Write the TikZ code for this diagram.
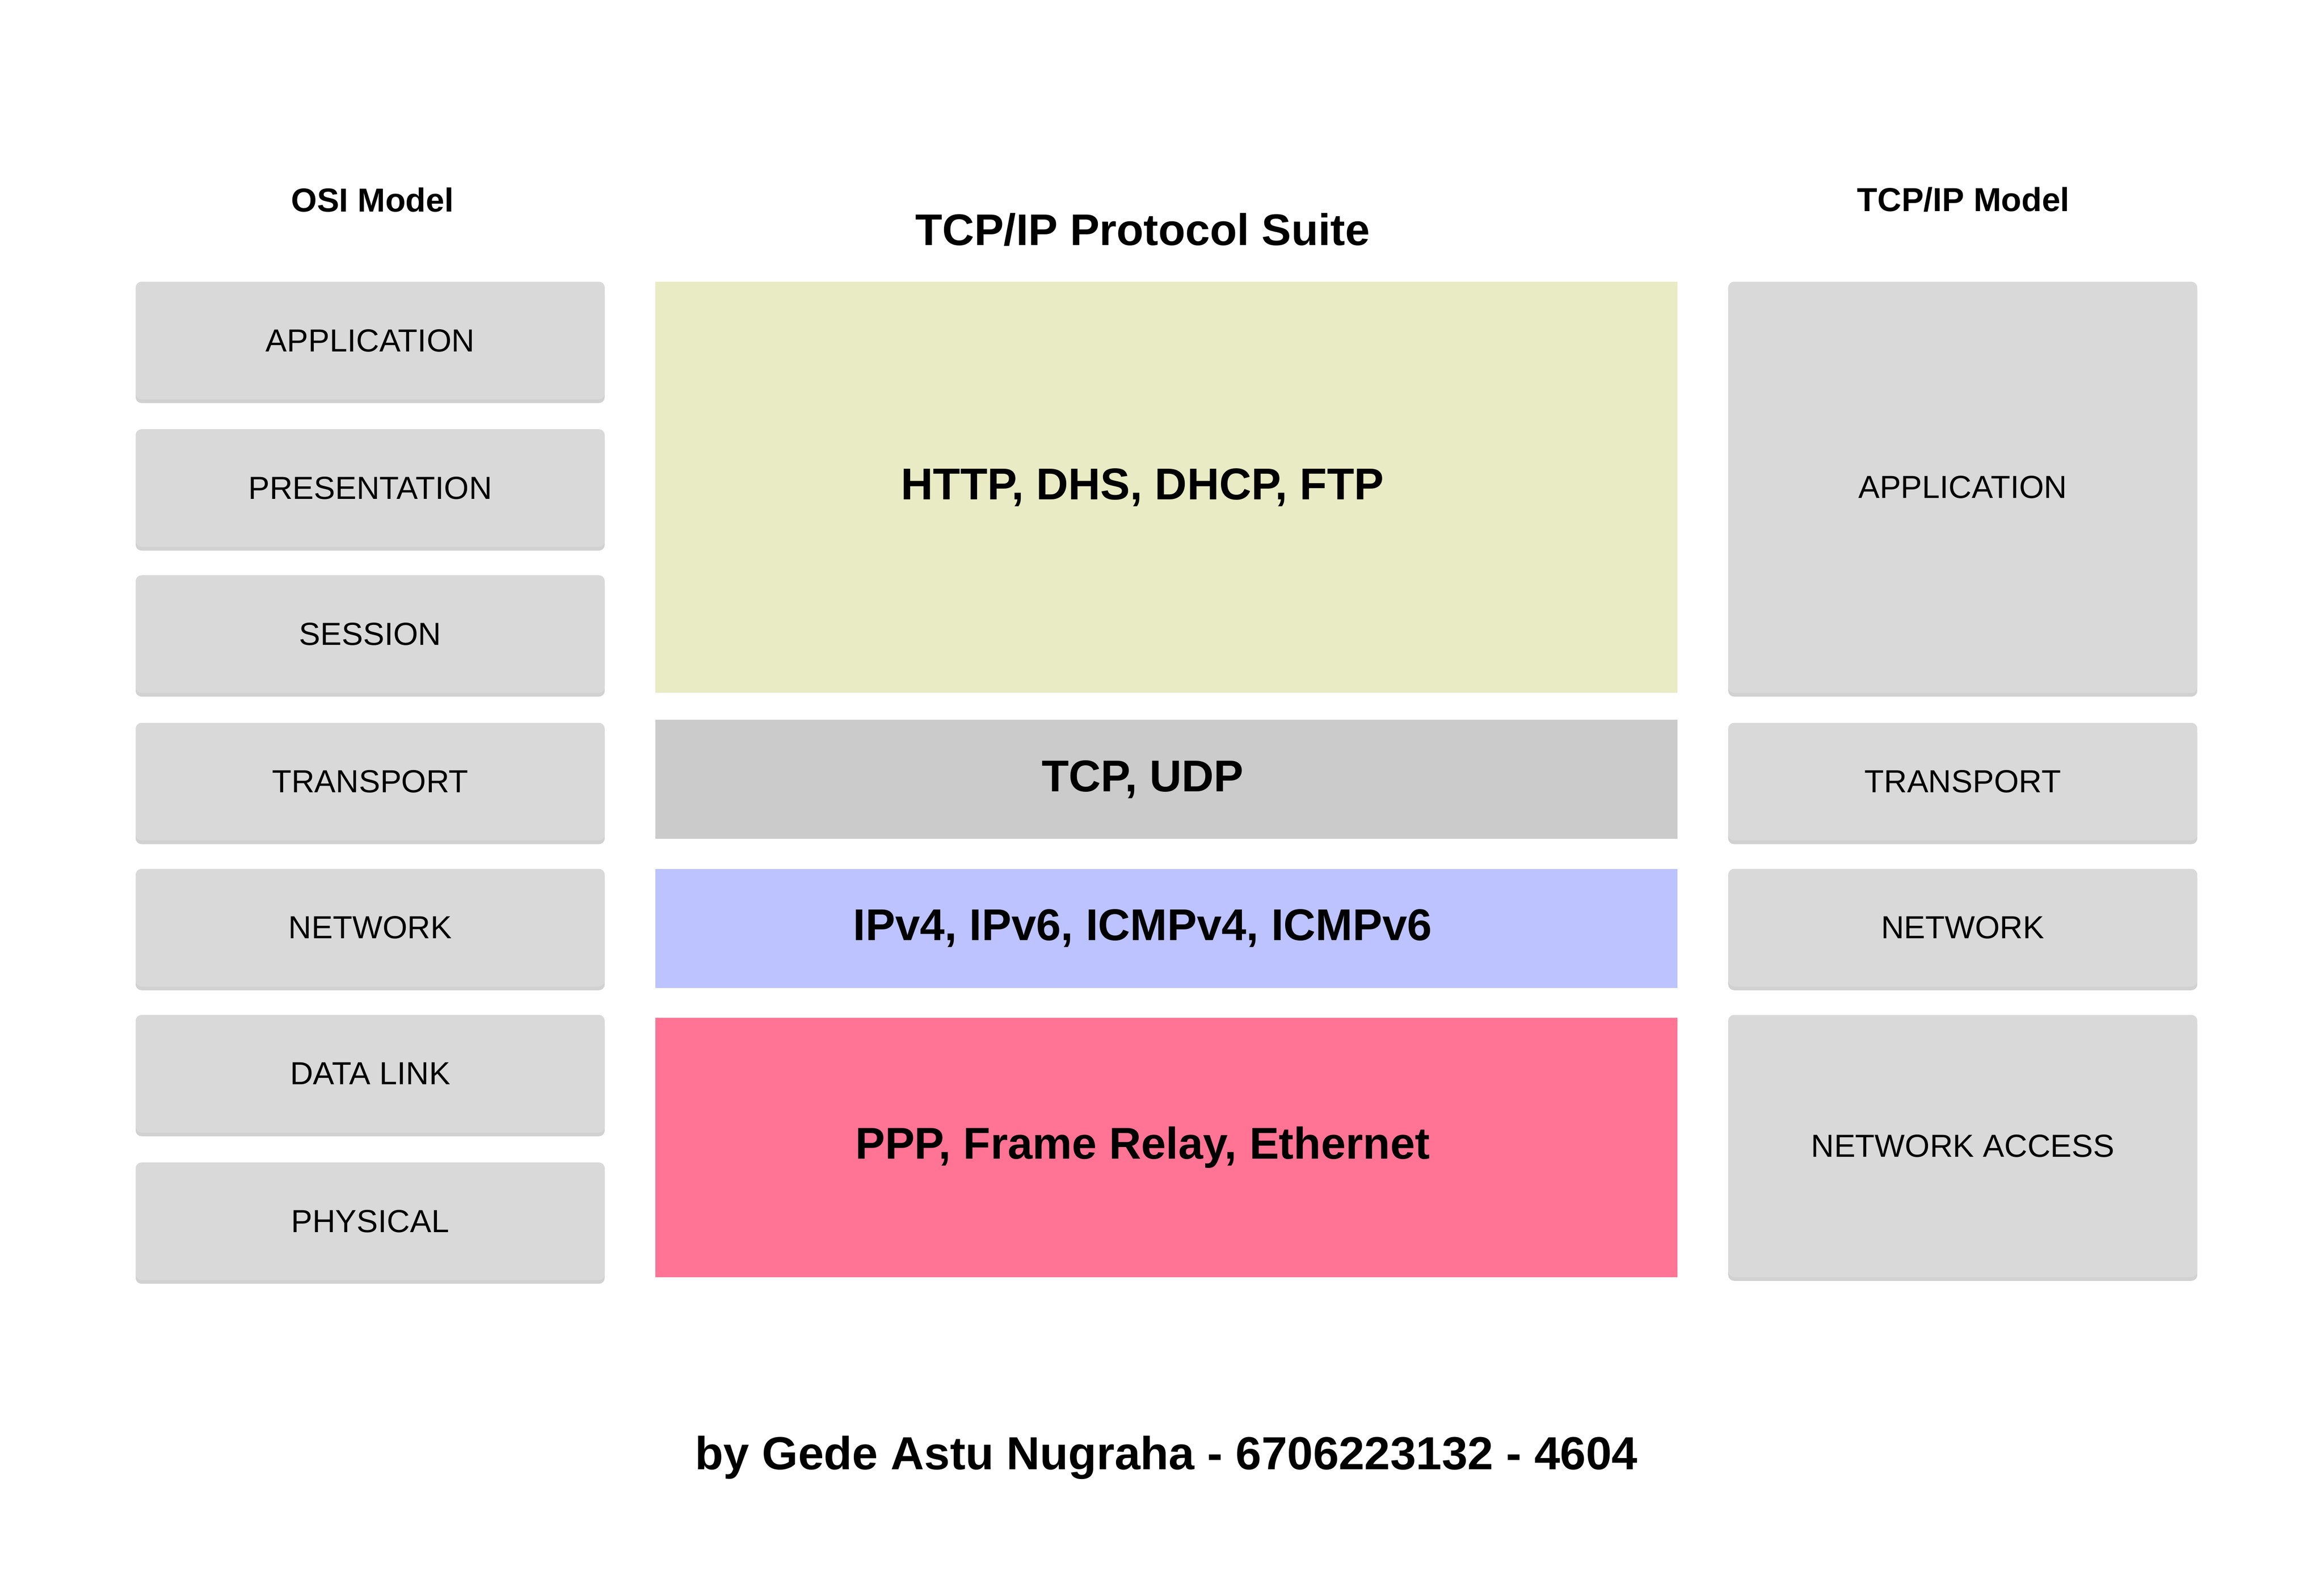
\documentclass[tikz,border=0pt]{standalone}
\usepackage{fontspec}
\setmainfont{Liberation Sans}
\usepackage{tikz}
\usetikzlibrary{shadows}
\definecolor{layergray}{HTML}{D9D9D9}
\definecolor{appyellow}{HTML}{E9EBC4}
\definecolor{tpgray}{HTML}{CBCBCB}
\definecolor{netblue}{HTML}{BCC3FE}
\definecolor{linkpink}{HTML}{FF7494}

\begin{document}
\begin{tikzpicture}
	[x=0.02cm, y=-0.02cm, inner sep=0pt,
	layer/.style	= {rectangle, fill=layergray, draw=none, rounded corners=2.3pt, minimum width=6.3cm, minimum height=1.58cm, font=\fontsize{12.2}{14}\selectfont,
		drop shadow={shadow xshift=0pt, shadow yshift=-0.05cm, fill=black!60, opacity=0.3}},
	proto/.style	= {rectangle, draw=none, minimum width=13.72cm, minimum height=1.6cm},
	protext/.style	= {font=\fontsize{17}{20}\bfseries\selectfont},
	heading/.style	= {font=\fontsize{12.7}{15}\bfseries\selectfont}]
	
	\useasboundingbox (0,0) rectangle (1560,1068);
	
	\node at (250, 134)		[heading]	(osi)		{OSI Model};
	\node at (767, 154)		[font=\fontsize{16.9}{20}\bfseries\selectfont]	(suite)	{TCP/IP Protocol Suite};
	\node at (1318, 134)	[heading]	(tcpip)		{TCP/IP Model};
	
	% OSI layers
	\node at (248.5, 228.5)	[layer]	(o7)	{APPLICATION};
	\node at (248.5, 327.5)	[layer]	(o6)	{PRESENTATION};
	\node at (248.5, 425.5)	[layer]	(o5)	{SESSION};
	\node at (248.5, 524.5)	[layer]	(o4)	{TRANSPORT};
	\node at (248.5, 622.5)	[layer]	(o3)	{NETWORK};
	\node at (248.5, 720.5)	[layer]	(o2)	{DATA LINK};
	\node at (248.5, 819.5)	[layer]	(o1)	{PHYSICAL};
	
	% protocol suite
	\node at (783, 327)		[proto, fill=appyellow, minimum height=5.52cm]	(papp)	{};
	\node at (783, 523)		[proto, fill=tpgray]	(ptrans)	{};
	\node at (783, 623)		[proto, fill=netblue]	(pnet)		{};
	\node at (783, 770)		[proto, fill=linkpink, minimum height=3.48cm]	(plink)	{};
	
	\node at (767, 327)		[protext]	(tapp)		{HTTP, DHS, DHCP, FTP};
	\node at (767, 523)		[protext]	(ttrans)	{TCP, UDP};
	\node at (767, 623)		[protext]	(tnet)		{IPv4, IPv6, ICMPv4, ICMPv6};
	\node at (767, 770)		[protext]	(tlink)		{PPP, Frame Relay, Ethernet};
	
	% TCP/IP layers
	\node at (1317.5, 327)	[layer, minimum height=5.52cm]	(t4)	{APPLICATION};
	\node at (1317.5, 524.5)	[layer]	(t3)	{TRANSPORT};
	\node at (1317.5, 622.5)	[layer]	(t2)	{NETWORK};
	\node at (1317.5, 769)	[layer, minimum height=3.52cm]	(t1)	{NETWORK ACCESS};
	
	\node at (783, 978)		[font=\fontsize{17.7}{21}\bfseries\selectfont]	(author)	{by Gede Astu Nugraha - 6706223132 - 4604};
	
\end{tikzpicture}
\end{document}
